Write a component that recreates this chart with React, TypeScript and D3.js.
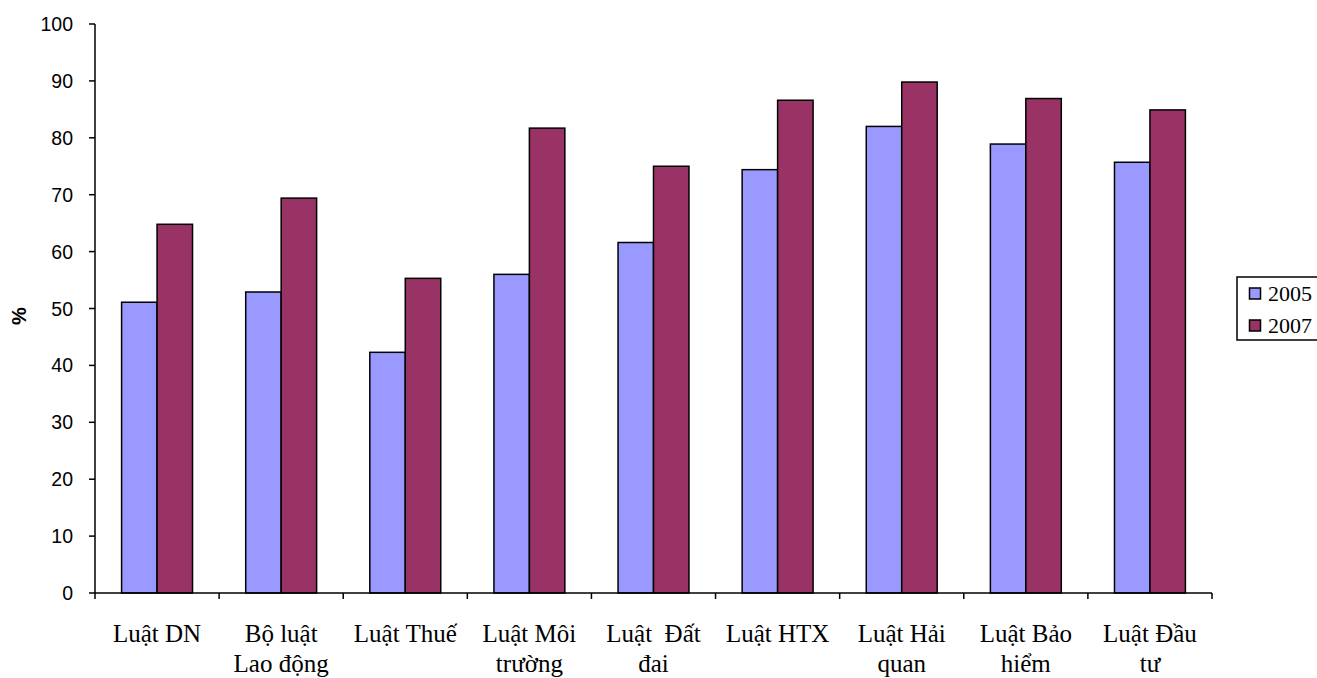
import React from "react";
import * as d3 from "d3";

const categories: string[][] = [
  ["Luật DN"],
  ["Bộ luật", "Lao động"],
  ["Luật Thuế"],
  ["Luật Môi", "trường"],
  ["Luật  Đất", "đai"],
  ["Luật HTX"],
  ["Luật Hải", "quan"],
  ["Luật Bảo", "hiểm"],
  ["Luật Đầu", "tư"],
];
const series2005: number[] = [51.1, 52.9, 42.3, 56.0, 61.6, 74.4, 82.0, 78.9, 75.7];
const series2007: number[] = [64.8, 69.4, 55.3, 81.7, 75.0, 86.6, 89.8, 86.9, 84.9];
const seriesNames: string[] = ["2005", "2007"];
const seriesColors: string[] = ["#9999FF", "#993366"];
const yTicks: number[] = [0, 10, 20, 30, 40, 50, 60, 70, 80, 90, 100];

export default function App() {
  const W = 1317, H = 678;
  const left = 95, right = 1212, top = 24, bottom = 593;
  const y = d3.scaleLinear().domain([0, 100]).range([bottom, top]);
  const x = d3.scaleBand<number>().domain(d3.range(categories.length)).range([left, right]).paddingInner(0).paddingOuter(0);
  const bw = x.bandwidth();
  const barW = bw / 3.5;
  const gap = barW * 0.75;
  const series = [series2005, series2007];

  return (
    <svg width={W} height={H} style={{ position: "absolute", left: 0, top: 0, background: "#fff" }}>
      {/* bars */}
      {series.map((vals, si) =>
        vals.map((v, i) => (
          <rect
            key={`b${si}-${i}`}
            x={(x(i) as number) + gap + si * barW}
            y={y(v)}
            width={barW}
            height={y(0) - y(v)}
            fill={seriesColors[si]}
            stroke="#000"
            strokeWidth={1.5}
          />
        ))
      )}
      {/* y axis */}
      <line x1={left} x2={left} y1={top} y2={bottom} stroke="#000" strokeWidth={1.5} />
      {yTicks.map((t) => (
        <g key={`yt${t}`}>
          <line x1={left - 6} x2={left} y1={y(t)} y2={y(t)} stroke="#000" strokeWidth={1.5} />
          <text x={73} y={y(t)} dy="0.36em" textAnchor="end" fontFamily="Arial, 'Liberation Sans', sans-serif" fontSize={19.5} fill="#000">
            {t}
          </text>
        </g>
      ))}
      {/* x axis */}
      <line x1={left} x2={right} y1={bottom} y2={bottom} stroke="#000" strokeWidth={1.5} />
      {d3.range(categories.length + 1).map((i) => {
        const xx = i < categories.length ? (x(i) as number) : right;
        return <line key={`xt${i}`} x1={xx} x2={xx} y1={bottom} y2={bottom + 6} stroke="#000" strokeWidth={1.5} />;
      })}
      {categories.map((lines, i) => (
        <text key={`xl${i}`} textAnchor="middle" fontFamily="'Times New Roman', 'Liberation Serif', serif" fontSize={25} fill="#000" style={{ whiteSpace: "pre" }}>
          {lines.map((ln, j) => (
            <tspan key={j} x={(x(i) as number) + bw / 2} y={642 + j * 30}>
              {ln}
            </tspan>
          ))}
        </text>
      ))}
      {/* y label */}
      <text transform="translate(26,316) rotate(-90)" textAnchor="middle" fontFamily="Arial, 'Liberation Sans', sans-serif" fontWeight="bold" fontSize={20} fill="#000">
        %
      </text>
      {/* legend */}
      <rect x={1237} y={277} width={100} height={63} fill="#fff" stroke="#000" strokeWidth={1.5} />
      {seriesNames.map((name, i) => (
        <g key={`lg${i}`}>
          <rect x={1249.5} y={288 + i * 32} width={11} height={11} fill={seriesColors[i]} stroke="#000" strokeWidth={1.5} />
          <text x={1268} y={301 + i * 32} fontFamily="'Times New Roman', 'Liberation Serif', serif" fontSize={22} fill="#000">
            {name}
          </text>
        </g>
      ))}
    </svg>
  );
}
